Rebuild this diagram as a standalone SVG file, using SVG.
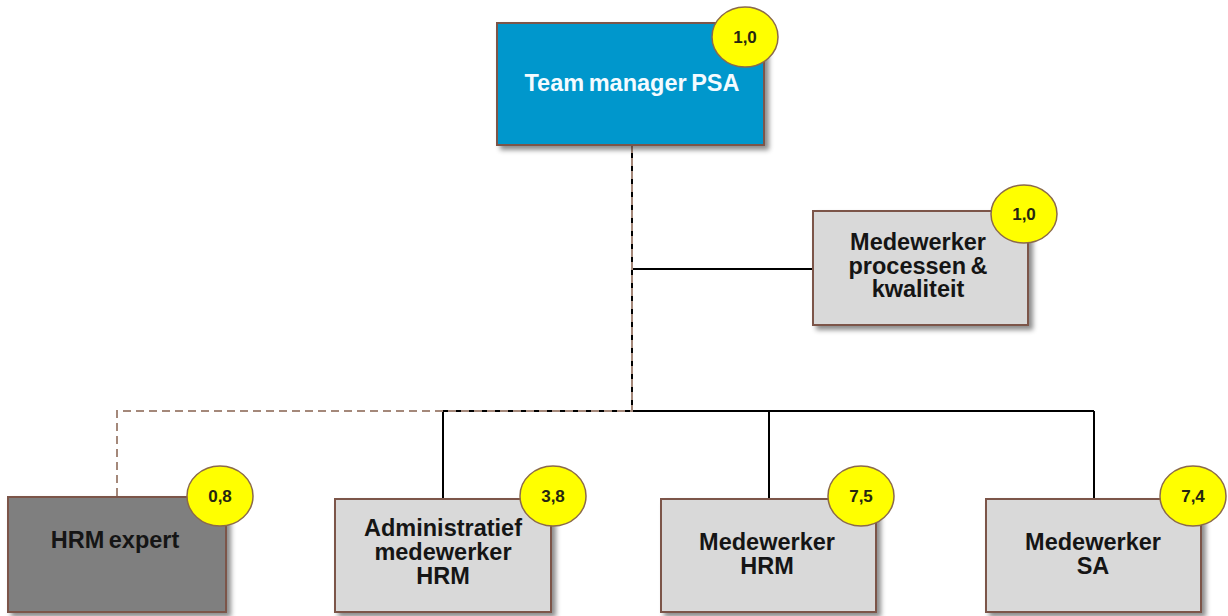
<svg xmlns="http://www.w3.org/2000/svg" width="1228" height="616" viewBox="0 0 1228 616">
<defs>
<filter id="sh" x="-10%" y="-10%" width="130%" height="130%">
<feDropShadow dx="4" dy="4" stdDeviation="2.5" flood-color="#000" flood-opacity="0.45"/>
</filter>
</defs>
<style>
.box{stroke:#7b5548;stroke-width:2;filter:url(#sh)}
.gray{fill:#d9d9d9}
.dark{fill:#7f7f7f}
.blue{fill:#0097cc}
.badge{fill:#ffff00;stroke:#8b6a4a;stroke-width:1.5}
.bt{font-family:"Liberation Sans",Arial,sans-serif;font-weight:bold;font-size:17px;fill:#262610;text-anchor:middle}
.lbl{font-family:"Liberation Sans",Arial,sans-serif;font-weight:bold;font-size:23.5px;fill:#151515;text-anchor:middle;word-spacing:-2px}
.wl{fill:#f4fbff}
.solid{stroke:#000;stroke-width:2;fill:none}
.dash{stroke:#a4887a;stroke-width:2;fill:none;stroke-dasharray:8 5}
</style>
<g id="connectors">
<path class="solid" d="M632 145 V411 M632 269 H813 M443 411 H1094 M443 411 V499 M769 411 V499 M1094 411 V499"/>
<path class="dash" d="M632 145 V411 H117 V497"/>
</g>
<g id="team-manager">
<rect class="box blue" x="497" y="23" width="267" height="122"/>
<text class="lbl wl" x="632" y="91">Team manager PSA</text>
<ellipse class="badge" cx="745" cy="37" rx="33" ry="30"/>
<text class="bt" x="745" y="43">1,0</text>
</g>
<g id="processen">
<rect class="box gray" x="813" y="211" width="215" height="114"/>
<text class="lbl"><tspan x="918" y="250">Medewerker</tspan><tspan x="918" y="273.5">processen &amp;</tspan><tspan x="918" y="297">kwaliteit</tspan></text>
<ellipse class="badge" cx="1024" cy="214" rx="33" ry="29"/>
<text class="bt" x="1024" y="220">1,0</text>
</g>
<g id="hrm-expert">
<rect class="box dark" x="8" y="497" width="218" height="115"/>
<text class="lbl" x="115" y="548">HRM expert</text>
<ellipse class="badge" cx="220" cy="496" rx="33" ry="30"/>
<text class="bt" x="220" y="502">0,8</text>
</g>
<g id="admin-hrm">
<rect class="box gray" x="335" y="499" width="216" height="113"/>
<text class="lbl"><tspan x="443" y="535.5">Administratief</tspan><tspan x="443" y="559.5">medewerker</tspan><tspan x="443" y="583.5">HRM</tspan></text>
<ellipse class="badge" cx="553" cy="496" rx="33" ry="30"/>
<text class="bt" x="553" y="502">3,8</text>
</g>
<g id="medewerker-hrm">
<rect class="box gray" x="661" y="499" width="215" height="113"/>
<text class="lbl"><tspan x="767" y="550">Medewerker</tspan><tspan x="767" y="574">HRM</tspan></text>
<ellipse class="badge" cx="861" cy="496" rx="33" ry="30"/>
<text class="bt" x="861" y="502">7,5</text>
</g>
<g id="medewerker-sa">
<rect class="box gray" x="986" y="499" width="215" height="113"/>
<text class="lbl"><tspan x="1093" y="550">Medewerker</tspan><tspan x="1093" y="574">SA</tspan></text>
<ellipse class="badge" cx="1193" cy="496" rx="33" ry="30"/>
<text class="bt" x="1193" y="502">7,4</text>
</g>
</svg>
